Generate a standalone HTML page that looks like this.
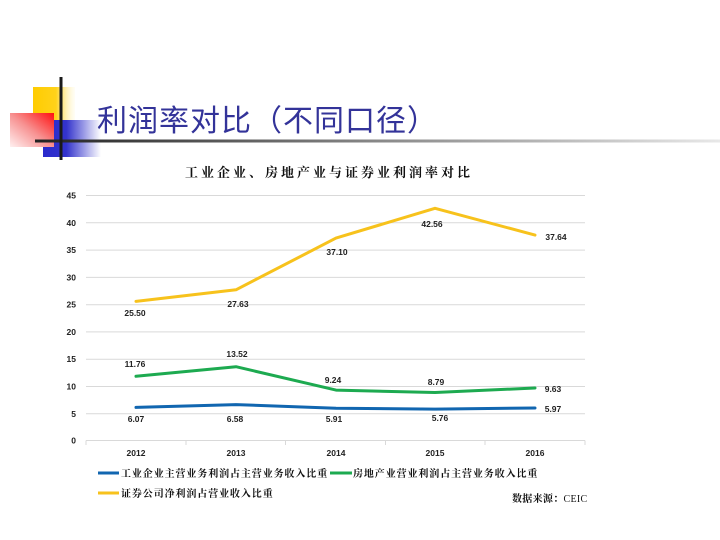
<!DOCTYPE html>
<html><head><meta charset="utf-8"><style>
html,body{margin:0;padding:0;background:#fff;}
body{width:720px;height:540px;position:relative;overflow:hidden;}
svg{position:absolute;left:0;top:0;}
</style></head><body>
<svg width="720" height="540" viewBox="0 0 720 540" xmlns="http://www.w3.org/2000/svg">
<defs>
<linearGradient id="gy" x1="0" x2="1" y1="0" y2="0"><stop offset="0" stop-color="#FFCC00"/><stop offset="0.55" stop-color="#FFD21A"/><stop offset="1" stop-color="#FFF6D0" stop-opacity="0.2"/></linearGradient>
<linearGradient id="gb" x1="0" x2="1" y1="0" y2="0"><stop offset="0" stop-color="#2A2ACC"/><stop offset="0.4" stop-color="#3333CC"/><stop offset="1" stop-color="#FFFFFF"/></linearGradient>
<linearGradient id="gr" x1="0" x2="1" y1="1" y2="0"><stop offset="0" stop-color="#FFF0F0"/><stop offset="0.5" stop-color="#F79090"/><stop offset="1" stop-color="#FF1010"/></linearGradient>
<linearGradient id="gl" x1="0" x2="1" y1="0" y2="0"><stop offset="0" stop-color="#222"/><stop offset="0.5" stop-color="#888"/><stop offset="1" stop-color="#e8e8e8"/></linearGradient>
</defs>
<!-- decoration -->
<rect x="33" y="87" width="42" height="33" fill="url(#gy)"/>
<rect x="43" y="120" width="58" height="37" fill="url(#gb)"/>
<rect x="10" y="113" width="44" height="34" fill="url(#gr)"/>
<rect x="35" y="139.5" width="685" height="3" fill="url(#gl)"/>
<rect x="59.5" y="77" width="3" height="83" fill="#1a1a1a"/>
<text x="97" y="131" font-family="'Liberation Sans','Noto Sans CJK SC',sans-serif" font-size="30" letter-spacing="1" fill="#333399">利润率对比（不同口径）</text>

<!-- chart title -->
<text x="185" y="177" font-family="'Liberation Serif','Noto Serif CJK SC',serif" font-weight="bold" font-size="13" letter-spacing="3" fill="#111">工业企业、房地产业与证券业利润率对比</text>

<!-- grid -->
<g stroke="#d9d9d9" stroke-width="1">
<line x1="86" x2="585" y1="195.5" y2="195.5"/>
<line x1="86" x2="585" y1="222.8" y2="222.8"/>
<line x1="86" x2="585" y1="250.1" y2="250.1"/>
<line x1="86" x2="585" y1="277.4" y2="277.4"/>
<line x1="86" x2="585" y1="304.7" y2="304.7"/>
<line x1="86" x2="585" y1="331.9" y2="331.9"/>
<line x1="86" x2="585" y1="359.2" y2="359.2"/>
<line x1="86" x2="585" y1="386.5" y2="386.5"/>
<line x1="86" x2="585" y1="413.8" y2="413.8"/>
<line x1="86" x2="585" y1="440.5" y2="440.5"/>
<line x1="86" x2="86" y1="440.5" y2="445"/>
<line x1="186" x2="186" y1="440.5" y2="445"/>
<line x1="285.5" x2="285.5" y1="440.5" y2="445"/>
<line x1="385.5" x2="385.5" y1="440.5" y2="445"/>
<line x1="485" x2="485" y1="440.5" y2="445"/>
<line x1="585" x2="585" y1="440.5" y2="445"/>
</g>
<g font-family="'Liberation Sans',sans-serif" font-size="8.5" font-weight="bold" fill="#222" text-anchor="end">
<text x="76" y="198.5">45</text>
<text x="76" y="225.8">40</text>
<text x="76" y="253.1">35</text>
<text x="76" y="280.4">30</text>
<text x="76" y="307.7">25</text>
<text x="76" y="334.9">20</text>
<text x="76" y="362.2">15</text>
<text x="76" y="389.5">10</text>
<text x="76" y="416.8">5</text>
<text x="76" y="443.5">0</text>
</g>
<g font-family="'Liberation Sans',sans-serif" font-size="8.5" font-weight="bold" fill="#222" text-anchor="middle">
<text x="136" y="456">2012</text>
<text x="236" y="456">2013</text>
<text x="336" y="456">2014</text>
<text x="435" y="456">2015</text>
<text x="535" y="456">2016</text>
</g>

<!-- series -->
<g fill="none" stroke-width="3" stroke-linejoin="round" stroke-linecap="round">
<polyline stroke="#F7C21C" points="136,301.4 236,289.8 336,238.1 435,208.3 535,235.1"/>
<polyline stroke="#1DAA50" points="136,376.3 236,366.7 336,390.1 435,392.5 535,388.0"/>
<polyline stroke="#1166B0" points="136,407.4 236,404.6 336,408.3 435,409.1 535,408.0"/>
</g>
<g font-family="'Liberation Sans',sans-serif" font-size="8.5" font-weight="bold" fill="#222" text-anchor="middle">
<text x="135" y="316">25.50</text>
<text x="238" y="307">27.63</text>
<text x="337" y="255">37.10</text>
<text x="432" y="227">42.56</text>
<text x="556" y="240">37.64</text>
<text x="135" y="367">11.76</text>
<text x="237" y="357">13.52</text>
<text x="333" y="383">9.24</text>
<text x="436" y="385">8.79</text>
<text x="553" y="392">9.63</text>
<text x="136" y="422">6.07</text>
<text x="235" y="422">6.58</text>
<text x="334" y="422">5.91</text>
<text x="440" y="421">5.76</text>
<text x="553" y="412">5.97</text>
</g>

<!-- legend -->
<g stroke-width="3">
<line x1="98" x2="119" y1="473" y2="473" stroke="#1166B0"/>
<line x1="330" x2="352" y1="473" y2="473" stroke="#1DAA50"/>
<line x1="98" x2="119" y1="493" y2="493" stroke="#F7C21C"/>
</g>
<g font-family="'Liberation Serif','Noto Serif CJK SC',serif" font-weight="bold" font-size="10" letter-spacing="0.9" fill="#111">
<text x="121" y="477">工业企业主营业务利润占主营业务收入比重</text>
<text x="353" y="477">房地产业营业利润占主营业务收入比重</text>
<text x="121" y="497">证券公司净利润占营业收入比重</text>
<text x="512" y="502" letter-spacing="0.3">数据来源：<tspan font-weight="normal">CEIC</tspan></text>
</g>
</svg>
</body></html>
